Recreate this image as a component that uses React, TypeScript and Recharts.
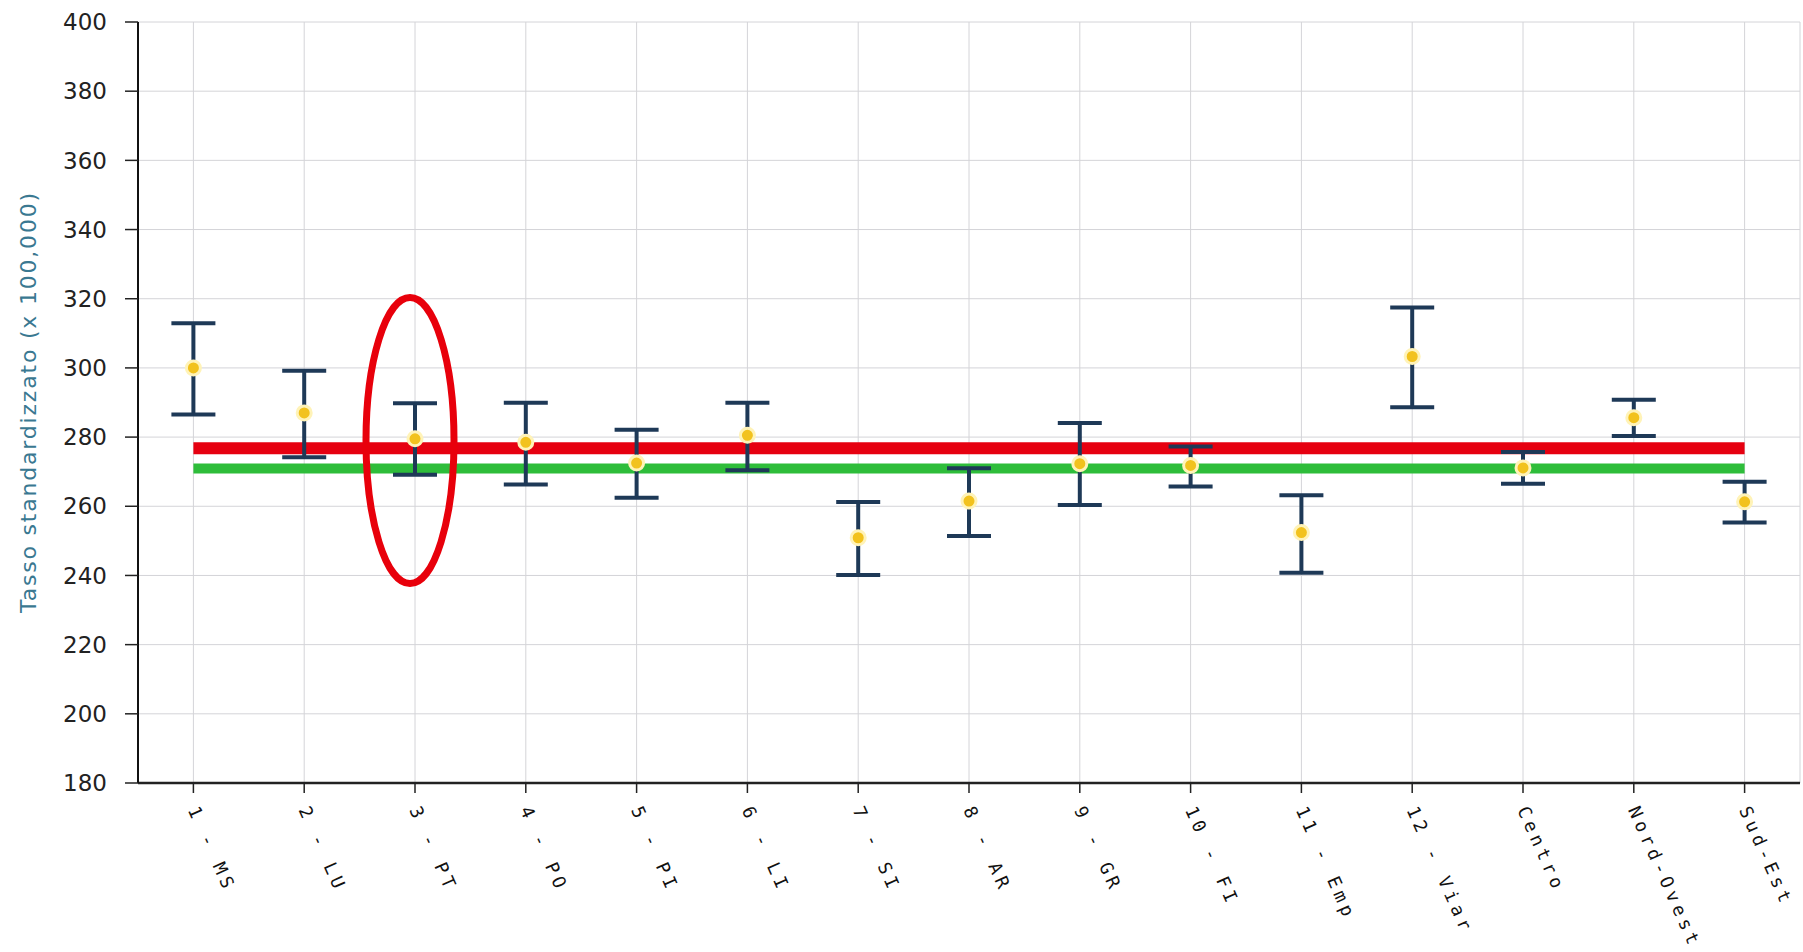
import {
  CartesianGrid,
  ComposedChart,
  ErrorBar,
  ReferenceDot,
  ReferenceLine,
  Scatter,
  XAxis,
  YAxis,
} from 'recharts';

const CATEGORIES = [
  '1 - MS', '2 - LU', '3 - PT', '4 - PO', '5 - PI', '6 - LI', '7 - SI', '8 - AR',
  '9 - GR', '10 - FI', '11 - Emp', '12 - Viar', 'Centro', 'Nord-Ovest', 'Sud-Est',
];
const RATE = [300.0, 287.0, 279.5, 278.5, 272.5, 280.5, 250.9, 261.5, 272.3, 271.8, 252.4, 303.3, 271.1, 285.6, 261.3];
const LOWER = [286.5, 274.2, 269.1, 266.3, 262.5, 270.4, 240.1, 251.4, 260.4, 265.7, 240.8, 288.6, 266.5, 280.3, 255.3];
const UPPER = [312.9, 299.2, 289.8, 289.9, 282.1, 289.9, 261.2, 271.0, 284.1, 277.3, 263.2, 317.5, 275.7, 290.8, 267.1];
const Y_TICKS = [180, 200, 220, 240, 260, 280, 300, 320, 340, 360, 380, 400];
const REF_RED = 276.8;
const REF_GREEN = 270.9;
const HIGHLIGHT = '3 - PT';
const HIGHLIGHT_Y = 279.0;

const rows = CATEGORIES.map((name, i) => ({
  name,
  rate: RATE[i],
  err: [RATE[i] - LOWER[i], UPPER[i] - RATE[i]],
}));

function XTick(props: any) {
  const { x, y, payload } = props;
  return (
    <text
      x={x}
      y={y}
      transform={`rotate(66, ${x}, ${y})`}
      textAnchor="start"
      dominantBaseline="central"
      fontFamily="DejaVu Sans Mono"
      fontSize={18}
      letterSpacing={4.5}
      fill="#111"
    >
      {payload.value}
    </text>
  );
}

function YTitle() {
  return (
    <text
      x={28}
      y={402}
      transform="rotate(-90, 28, 402)"
      textAnchor="middle"
      dominantBaseline="central"
      fontFamily="DejaVu Sans"
      fontSize={22}
      letterSpacing={1.8}
      fill="#3a7891"
    >
      Tasso standardizzato (x 100,000)
    </text>
  );
}

function Dot(props: any) {
  const { cx, cy } = props;
  return <circle cx={cx} cy={cy} r={7} fill="#f2c21e" stroke="#fff3b8" strokeWidth={3} />;
}

function Ellipse(props: any) {
  const { cx, cy } = props;
  return <ellipse cx={cx - 5} cy={cy} rx={44} ry={143} fill="none" stroke="#e8000b" strokeWidth={7} />;
}

export default function App() {
  return (
    <div style={{ position: 'absolute', left: 0, top: 0, background: '#fff' }}>
      <ComposedChart
        width={1803}
        height={952}
        data={rows}
        margin={{ top: 22, right: 3, left: 0, bottom: 0 }}
      >
        <CartesianGrid stroke="#d4d4d8" strokeWidth={1} />
        <XAxis
          dataKey="name"
          type="category"
          scale="band"
          interval={0}
          height={169}
          tick={<XTick />}
          tickSize={10}
          tickMargin={14}
          axisLine={{ stroke: '#222', strokeWidth: 2.5 }}
          tickLine={{ stroke: '#222', strokeWidth: 1.5 }}
        />
        <YAxis
          type="number"
          domain={[180, 400]}
          ticks={Y_TICKS}
          interval={0}
          width={138}
          tickSize={13}
          tickMargin={18}
          tick={{ fontFamily: 'DejaVu Sans', fontSize: 23, fill: '#222' }}
          axisLine={{ stroke: '#111', strokeWidth: 2 }}
          tickLine={{ stroke: '#222', strokeWidth: 1.5 }}
          label={<YTitle />}
        />
        <ReferenceLine
          segment={[{ x: CATEGORIES[0], y: REF_RED }, { x: CATEGORIES[CATEGORIES.length - 1], y: REF_RED }]}
          stroke="#e60010"
          strokeWidth={12}
        />
        <ReferenceLine
          segment={[{ x: CATEGORIES[0], y: REF_GREEN }, { x: CATEGORIES[CATEGORIES.length - 1], y: REF_GREEN }]}
          stroke="#2ebd3a"
          strokeWidth={10}
        />
        <Scatter dataKey="rate" shape={<Dot />} isAnimationActive={false}>
          <ErrorBar dataKey="err" direction="y" width={22} stroke="#1e3957" strokeWidth={4} isAnimationActive={false} />
        </Scatter>
        <ReferenceDot x={HIGHLIGHT} y={HIGHLIGHT_Y} shape={<Ellipse />} />
      </ComposedChart>
    </div>
  );
}
